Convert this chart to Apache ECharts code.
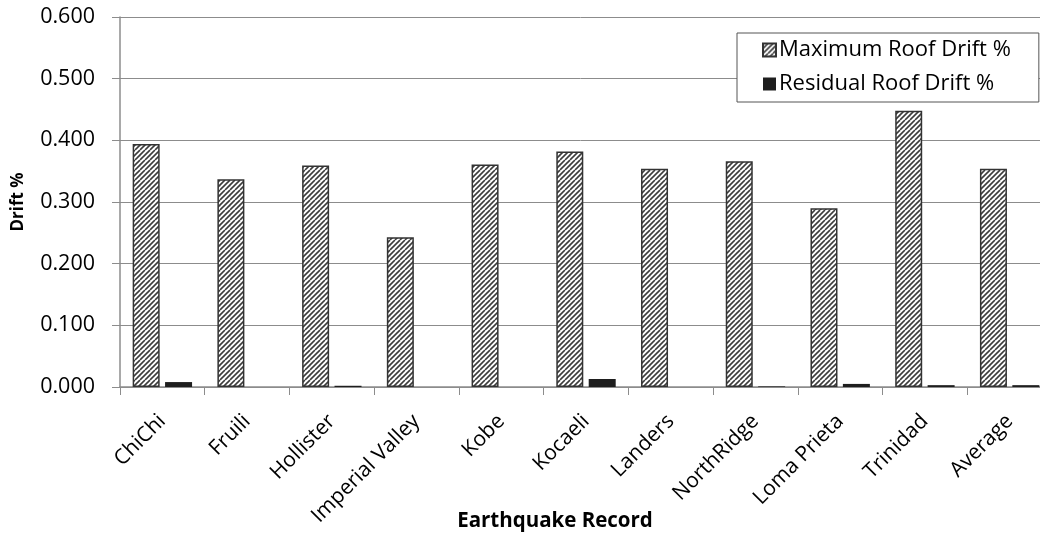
<!DOCTYPE html>
<html>
<head>
<meta charset="utf-8">
<title>Roof Drift by Earthquake Record</title>
<script src="https://cdn.jsdelivr.net/npm/echarts@6/dist/echarts.min.js"></script>
<style>
  html, body { margin: 0; padding: 0; background: #ffffff; }
  #chart { width: 1040px; height: 533px; }
</style>
</head>
<body>
<div id="chart"></div>
<script>
// Earthquake records on the category axis
const records = ['ChiChi', 'Fruili', 'Hollister', 'Imperial Valley', 'Kobe', 'Kocaeli',
  'Landers', 'NorthRidge', 'Loma Prieta', 'Trinidad', 'Average'];

// Peak roof drift (%) per record
const maxRoofDrift = [0.394, 0.337, 0.359, 0.243, 0.361, 0.382, 0.354, 0.366, 0.290, 0.448, 0.354];

// Residual roof drift (%) per record
const residualRoofDrift = [0.008, 0.000, 0.002, 0.000, 0.000, 0.013, 0.000, 0.001, 0.005, 0.003, 0.003];

// Y axis tick range
const yTicks = { min: 0, max: 0.6, step: 0.1 };

const FONT = '"Open Sans", "Noto Sans", sans-serif';

// Diagonal hatch tile for the peak-drift bars
function hatchTile() {
  const s = 10;
  const c = document.createElement('canvas');
  c.width = s; c.height = s;
  const g = c.getContext('2d');
  g.fillStyle = '#ffffff';
  g.fillRect(0, 0, s, s);
  g.strokeStyle = '#3c3c3c';
  g.lineWidth = 1.6;
  for (let x = -s; x <= s * 2; x += 5) {
    g.beginPath();
    g.moveTo(x, s);
    g.lineTo(x + s, 0);
    g.stroke();
  }
  return c;
}

const chart = echarts.init(document.getElementById('chart'), null, { renderer: 'canvas' });

chart.setOption({
  animation: false,
  backgroundColor: '#ffffff',
  textStyle: { fontFamily: FONT },
  title: {
    text: 'Earthquake Record',
    left: 550,
    top: 506,
    textAlign: 'center',
    textStyle: { fontFamily: FONT, fontSize: 20.5, fontWeight: 'bold', color: '#000' }
  },
  legend: {
    orient: 'vertical',
    left: 737,
    top: 33,
    padding: [6, 28, 7, 25],
    borderColor: '#555',
    borderWidth: 1,
    backgroundColor: '#fff',
    itemWidth: 13,
    itemHeight: 13,
    itemGap: 12,
    icon: 'rect',
    textStyle: { fontFamily: FONT, fontSize: 22, color: '#000', padding: [0, 0, 0, -2] },
    data: ['Maximum Roof Drift %', 'Residual Roof Drift %']
  },
  // the plot area runs a little past the right edge of the canvas
  grid: { left: 120, top: 17, width: 932, bottom: 146, containLabel: false, outerBoundsMode: 'none' },
  xAxis: {
    type: 'category',
    data: records,
    axisLine: { lineStyle: { color: '#8c8c8c', width: 1.5 } },
    axisTick: { show: true, length: 8, lineStyle: { color: '#8c8c8c' } },
    axisLabel: { rotate: 45, margin: 31, fontSize: 21, color: '#000', fontFamily: FONT, interval: 0 }
  },
  yAxis: {
    type: 'value',
    min: yTicks.min,
    max: yTicks.max,
    interval: yTicks.step,
    name: 'Drift %',
    nameLocation: 'middle',
    nameGap: 93,
    nameTextStyle: { fontFamily: FONT, fontSize: 17, fontWeight: 'bold', color: '#000' },
    axisLine: { show: true, lineStyle: { color: '#8c8c8c', width: 1.5 } },
    axisTick: { show: true, length: 8, lineStyle: { color: '#8c8c8c' } },
    axisLabel: { margin: 25, fontSize: 21.5, color: '#000', fontFamily: FONT,
      formatter: v => v.toFixed(3) },
    splitLine: { show: true, lineStyle: { color: '#8c8c8c', width: 1 } }
  },
  series: [
    {
      name: 'Maximum Roof Drift %',
      type: 'bar',
      data: maxRoofDrift,
      barWidth: 27,
      barGap: '20%',
      itemStyle: {
        color: { image: hatchTile(), repeat: 'repeat' },
        borderColor: '#333',
        borderWidth: 1.5
      }
    },
    {
      name: 'Residual Roof Drift %',
      type: 'bar',
      data: residualRoofDrift,
      barWidth: 27,
      itemStyle: { color: '#1e1e1e', borderColor: '#333', borderWidth: 0 }
    }
  ]
});
</script>
</body>
</html>
